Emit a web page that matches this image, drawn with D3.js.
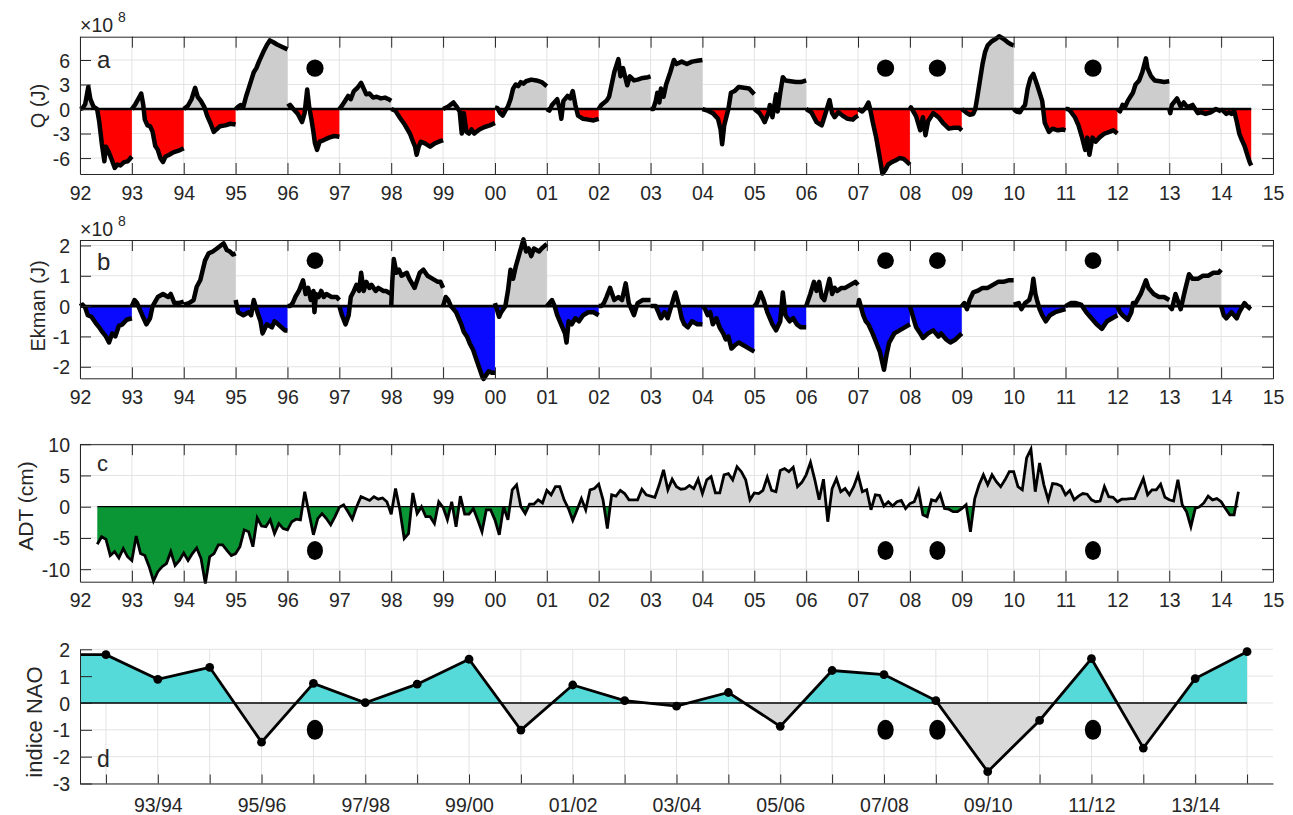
<!DOCTYPE html>
<html><head><meta charset="utf-8">
<script src="https://cdn.jsdelivr.net/npm/d3@7"></script>
<style>
body{margin:0;background:#fff}
text{font-family:"Liberation Sans",Arial,Helvetica,sans-serif;fill:#262626}
</style>
</head><body>
<svg id="chart" width="1293" height="815"></svg>
<script>
// ---------------- DATA ----------------
// start year (two-digit, 92 = 1992 ... 114 = 2014) of each yearly cumulative segment
const segYears = [92,93,94,95,96,97,98,99,100,101,102,103,104,105,106,107,108,109,110,111,112,113,114];

// Q (J) x1e8 : [fraction of year, value] per year
const qByYear = [
 [[0,0],[0.05,0.1],[0.1,0.6],[0.16,2.7],[0.2,1.2],[0.26,0.3],[0.33,0.0],[0.37,-1.5],[0.42,-4.2],[0.47,-6.4],[0.5,-4.6],[0.55,-5.2],[0.6,-6.0],[0.67,-7.2],[0.72,-6.8],[0.78,-6.9],[0.85,-6.5],[0.92,-6.4],[1,-5.8]],
 [[0,0],[0.06,0.5],[0.12,1.2],[0.18,1.9],[0.22,0.5],[0.25,-1.3],[0.3,-2.0],[0.35,-2.1],[0.4,-2.8],[0.45,-4.5],[0.5,-5.0],[0.55,-6.0],[0.6,-6.5],[0.65,-5.8],[0.72,-5.6],[0.8,-5.3],[0.9,-5.1],[1,-4.8]],
 [[0,0],[0.08,0.4],[0.15,1.2],[0.22,2.6],[0.27,1.5],[0.33,1.0],[0.4,0.2],[0.45,-0.8],[0.52,-1.8],[0.58,-2.8],[0.63,-2.5],[0.7,-2.1],[0.8,-2.0],[0.9,-1.8],[1,-1.9]],
 [[0,0],[0.05,0.3],[0.1,0.5],[0.15,0.3],[0.2,1.5],[0.25,2.5],[0.3,3.5],[0.35,4.5],[0.4,5.0],[0.45,5.8],[0.5,6.5],[0.55,7.2],[0.6,7.8],[0.66,8.4],[0.72,8.2],[0.8,7.9],[0.9,7.6],[1,7.3]],
 [[0,0.3],[0.05,0.5],[0.1,0.1],[0.2,-0.6],[0.28,-1.6],[0.33,-0.5],[0.38,2.4],[0.42,0.2],[0.46,-1.2],[0.5,-2.8],[0.53,-4.2],[0.57,-5.0],[0.62,-4.0],[0.7,-3.8],[0.8,-3.5],[0.9,-3.3],[1,-3.4]],
 [[0,0],[0.05,0.4],[0.1,0.9],[0.17,1.6],[0.22,1.2],[0.28,2.2],[0.35,2.6],[0.42,3.2],[0.47,2.5],[0.52,1.8],[0.58,1.9],[0.65,1.4],[0.72,1.5],[0.8,1.3],[0.88,1.4],[0.95,1.2],[1,1.0]],
 [[0,0],[0.08,-0.2],[0.17,-1.1],[0.26,-1.9],[0.36,-3.0],[0.42,-4.0],[0.46,-4.6],[0.49,-5.6],[0.53,-4.6],[0.57,-4.0],[0.65,-4.2],[0.75,-4.6],[0.84,-4.2],[0.92,-4.0],[1,-3.8]],
 [[0,0],[0.1,0.3],[0.2,0.8],[0.27,0.2],[0.32,-0.3],[0.36,-3.0],[0.4,-0.5],[0.45,-2.8],[0.5,-3.0],[0.55,-2.5],[0.6,-3.0],[0.7,-2.5],[0.8,-2.2],[0.9,-2.0],[1,-1.7]],
 [[0,0.2],[0.05,0.1],[0.1,-0.5],[0.15,-0.8],[0.2,-0.2],[0.25,0.3],[0.3,1.2],[0.35,2.5],[0.4,3.0],[0.45,2.8],[0.5,3.3],[0.55,3.1],[0.6,3.4],[0.7,3.6],[0.8,3.5],[0.9,3.3],[1,2.8]],
 [[0,0],[0.05,-0.2],[0.1,0.5],[0.2,1.2],[0.25,0],[0.28,-1.2],[0.32,1.0],[0.4,1.6],[0.45,1.3],[0.5,2.2],[0.55,0.5],[0.6,-0.8],[0.7,-1.2],[0.8,-1.3],[0.9,-1.4],[1,-1.2]],
 [[0,0],[0.05,0.5],[0.15,1.0],[0.2,1.5],[0.25,3.0],[0.3,4.5],[0.38,6.1],[0.42,4.0],[0.47,5.0],[0.55,2.9],[0.6,4.0],[0.68,3.5],[0.75,3.6],[0.85,3.8],[0.95,3.9],[1,4.0]],
 [[0,0],[0.05,0],[0.1,1.0],[0.13,2.0],[0.17,0.8],[0.2,2.5],[0.25,1.5],[0.3,3.0],[0.38,4.5],[0.45,6.0],[0.5,5.5],[0.6,5.8],[0.7,5.5],[0.8,5.8],[0.9,5.9],[1,6.0]],
 [[0,0],[0.1,-0.2],[0.2,-0.5],[0.3,-1.2],[0.35,-2.5],[0.38,-4.3],[0.42,-2.0],[0.5,0],[0.55,2.0],[0.62,2.2],[0.7,2.7],[0.8,2.6],[0.9,2.5],[1,1.8]],
 [[0,0],[0.1,-0.5],[0.15,-1.0],[0.2,-1.6],[0.27,-0.5],[0.3,0.5],[0.35,-1.0],[0.4,1.0],[0.42,1.8],[0.45,-0.3],[0.5,2.0],[0.55,3.9],[0.6,3.5],[0.7,3.4],[0.8,3.3],[0.9,3.3],[1,3.5]],
 [[0,0],[0.1,-0.4],[0.2,-1.6],[0.3,-2.0],[0.35,-1.0],[0.45,1.1],[0.5,-0.5],[0.55,-1.0],[0.62,-0.4],[0.7,-0.8],[0.8,-1.2],[0.9,-1.3],[0.95,-1.0],[1,-0.8]],
 [[0,0],[0.08,-0.3],[0.15,0.2],[0.2,0.8],[0.23,0.1],[0.28,-1.5],[0.35,-3.5],[0.42,-6.0],[0.47,-7.9],[0.52,-7.5],[0.58,-6.8],[0.65,-6.5],[0.72,-6.3],[0.8,-6.0],[0.88,-6.1],[0.95,-6.5],[1,-6.8]],
 [[0,0],[0.02,0.2],[0.12,-0.9],[0.2,-2.6],[0.25,-1.0],[0.3,-3.2],[0.35,-1.5],[0.45,-0.5],[0.55,-1.0],[0.65,-1.8],[0.75,-2.4],[0.85,-2.3],[0.95,-2.3],[1,-2.6]],
 [[0,0],[0.08,-0.4],[0.15,-0.7],[0.22,-0.6],[0.26,0.0],[0.3,1.5],[0.35,3.5],[0.4,5.5],[0.45,7.0],[0.5,7.8],[0.58,8.3],[0.66,8.6],[0.72,8.9],[0.8,8.6],[0.88,8.2],[0.95,7.9],[1,7.8]],
 [[0,0],[0.05,-0.3],[0.12,-0.4],[0.18,0.2],[0.22,0.5],[0.27,2.5],[0.32,3.7],[0.38,4.3],[0.45,3.0],[0.5,2.0],[0.55,1.0],[0.6,-1.7],[0.68,-2.8],[0.75,-2.4],[0.85,-2.6],[0.95,-2.5],[1,-2.6]],
 [[0,0],[0.05,0],[0.1,-0.3],[0.18,-1.0],[0.25,-2.0],[0.32,-3.5],[0.38,-5.0],[0.42,-3.5],[0.46,-5.6],[0.52,-3.5],[0.58,-4.0],[0.65,-3.5],[0.75,-3.0],[0.85,-2.8],[0.92,-2.6],[1,-3.0]],
 [[0,0],[0.05,-0.3],[0.1,0.5],[0.15,0.3],[0.2,1.0],[0.25,1.5],[0.3,2.0],[0.35,3.0],[0.42,3.5],[0.48,4.5],[0.55,6.2],[0.58,5.0],[0.65,4.0],[0.72,3.5],[0.82,3.4],[0.9,3.3],[1,3.4]],
 [[0,0],[0.02,-0.5],[0.05,0.5],[0.15,1.3],[0.22,0.3],[0.28,0.8],[0.35,0.2],[0.45,0.5],[0.55,-0.5],[0.62,-0.4],[0.7,-0.6],[0.8,-0.4],[0.9,0],[1,-0.3]],
 [[0,0],[0.05,-0.3],[0.1,-0.6],[0.15,-0.4],[0.2,-0.6],[0.25,-0.2],[0.3,-1.5],[0.35,-3.0],[0.4,-3.8],[0.45,-4.5],[0.5,-5.5],[0.55,-6.5],[0.58,-6.9]]
];

// Ekman (J) x1e8 : [fraction of year, value] per year
const ekByYear = [
 [[0,0],[0.05,0.05],[0.1,-0.05],[0.15,-0.3],[0.22,-0.35],[0.3,-0.55],[0.37,-0.7],[0.43,-0.85],[0.5,-1.0],[0.56,-1.2],[0.62,-0.9],[0.68,-1.0],[0.75,-0.65],[0.82,-0.6],[0.9,-0.45],[1,-0.4]],
 [[0,0],[0.05,0.2],[0.1,0.1],[0.2,-0.3],[0.28,-0.6],[0.35,-0.4],[0.4,0],[0.5,0.3],[0.6,0.4],[0.7,0.3],[0.75,0.4],[0.82,0.1],[0.9,0.1],[1,0.15]],
 [[0,0.05],[0.1,0.1],[0.19,0.2],[0.25,0.64],[0.32,0.86],[0.41,1.5],[0.48,1.74],[0.56,1.8],[0.64,1.9],[0.77,2.07],[0.83,1.85],[0.89,1.8],[0.95,1.7],[1,1.74]],
 [[0,0.2],[0.05,-0.2],[0.15,-0.3],[0.25,-0.2],[0.3,-0.3],[0.35,0.2],[0.42,-0.2],[0.48,-0.5],[0.52,-0.9],[0.6,-0.6],[0.7,-0.7],[0.75,-0.5],[0.82,-0.6],[0.95,-0.8],[1,-0.8]],
 [[0,0],[0.05,0],[0.1,0.1],[0.15,0.3],[0.22,0.5],[0.3,0.85],[0.35,0.4],[0.4,0.6],[0.45,0.2],[0.5,0.5],[0.52,-0.2],[0.55,0.4],[0.6,0.3],[0.65,0.5],[0.7,0.3],[0.75,0.4],[0.85,0.3],[0.95,0.3],[1,0.2]],
 [[0,0],[0.05,-0.3],[0.12,-0.6],[0.18,-0.3],[0.22,0.3],[0.28,0.5],[0.33,0.7],[0.38,0.5],[0.42,1.1],[0.47,0.5],[0.52,0.8],[0.58,0.6],[0.62,0.7],[0.7,0.5],[0.75,0.6],[0.85,0.5],[0.9,0.5],[1,0.4]],
 [[0,0],[0.02,0.8],[0.05,1.55],[0.1,1.1],[0.15,1.2],[0.2,1.0],[0.3,1.1],[0.35,0.9],[0.45,0.6],[0.55,1.1],[0.62,1.2],[0.7,1.0],[0.8,0.9],[0.9,0.8],[0.95,0.8],[1,0.6]],
 [[0,0],[0.05,0.3],[0.1,0.2],[0.15,0],[0.2,-0.1],[0.25,-0.2],[0.3,-0.4],[0.35,-0.6],[0.4,-0.85],[0.46,-1.0],[0.52,-1.25],[0.58,-1.45],[0.65,-1.8],[0.7,-2.05],[0.75,-2.3],[0.78,-2.4],[0.82,-2.3],[0.88,-2.15],[0.94,-2.2],[1,-2.2]],
 [[0,0.1],[0.08,-0.35],[0.12,-0.2],[0.2,0],[0.25,0.5],[0.3,1.2],[0.35,0.9],[0.4,1.3],[0.45,1.6],[0.55,2.2],[0.6,1.8],[0.65,1.9],[0.7,1.65],[0.75,1.9],[0.85,1.8],[0.9,1.9],[1,2.05]],
 [[0,0],[0.1,0.2],[0.15,0],[0.2,-0.3],[0.3,-0.7],[0.35,-0.9],[0.38,-1.2],[0.42,-0.5],[0.48,-0.6],[0.55,-0.4],[0.62,-0.5],[0.7,-0.3],[0.8,-0.2],[0.9,-0.2],[1,-0.3]],
 [[0,0],[0.05,0],[0.1,0.1],[0.15,0.3],[0.22,0.6],[0.3,0.2],[0.38,0.3],[0.45,0.2],[0.52,0.75],[0.58,0.1],[0.68,-0.3],[0.75,0.1],[0.85,0.2],[0.95,0.2],[1,0.2]],
 [[0,0],[0.05,0],[0.1,0],[0.15,-0.2],[0.2,-0.4],[0.27,-0.2],[0.33,-0.4],[0.4,0],[0.45,0.3],[0.48,0.45],[0.55,0],[0.6,-0.4],[0.65,-0.6],[0.72,-0.7],[0.8,-0.5],[0.9,-0.6],[1,-0.6]],
 [[0,0],[0.05,-0.1],[0.1,-0.3],[0.15,-0.2],[0.2,-0.6],[0.27,-0.4],[0.33,-0.7],[0.4,-0.9],[0.45,-1.1],[0.5,-1.0],[0.56,-1.4],[0.62,-1.3],[0.7,-1.2],[0.8,-1.3],[0.9,-1.4],[1,-1.5]],
 [[0,0],[0.05,0.1],[0.12,0.45],[0.18,0.2],[0.25,-0.2],[0.35,-0.6],[0.42,-0.8],[0.5,-0.5],[0.55,0.45],[0.6,-0.3],[0.68,-0.5],[0.75,-0.4],[0.82,-0.6],[0.9,-0.7],[1,-0.7]],
 [[0,0],[0.08,0.4],[0.15,0.8],[0.2,0.5],[0.25,0.8],[0.3,0.3],[0.35,0.2],[0.45,0.9],[0.5,0.4],[0.55,0.6],[0.6,0.5],[0.68,0.6],[0.75,0.6],[0.85,0.7],[0.95,0.8],[1,0.7]],
 [[0,0],[0.02,0.2],[0.1,-0.3],[0.15,-0.5],[0.2,-0.6],[0.28,-0.9],[0.35,-1.2],[0.42,-1.5],[0.5,-2.1],[0.55,-1.6],[0.6,-1.2],[0.7,-0.9],[0.8,-0.8],[0.9,-0.7],[1,-0.6]],
 [[0,0],[0.05,-0.3],[0.12,-0.7],[0.2,-0.9],[0.25,-1.05],[0.35,-0.9],[0.45,-0.8],[0.55,-1.0],[0.6,-0.9],[0.7,-1.1],[0.78,-1.2],[0.88,-1.1],[1,-0.9]],
 [[0,0],[0.05,0.1],[0.1,-0.1],[0.15,0.2],[0.22,0.45],[0.3,0.5],[0.4,0.6],[0.5,0.6],[0.6,0.7],[0.7,0.8],[0.8,0.8],[0.9,0.85],[1,0.85]],
 [[0,0.05],[0.1,0.1],[0.15,-0.1],[0.22,0.1],[0.3,0.2],[0.35,0.5],[0.38,0.9],[0.42,0.4],[0.45,0.2],[0.5,-0.1],[0.55,-0.3],[0.62,-0.5],[0.7,-0.3],[0.8,-0.2],[0.9,-0.15],[1,-0.1]],
 [[0,0],[0.1,0.1],[0.2,0.1],[0.3,0.05],[0.4,-0.2],[0.5,-0.4],[0.6,-0.6],[0.7,-0.75],[0.8,-0.5],[0.9,-0.4],[1,-0.3]],
 [[0,0],[0.05,-0.2],[0.1,-0.3],[0.2,-0.45],[0.27,-0.2],[0.3,0.1],[0.35,0.1],[0.45,0.4],[0.55,0.85],[0.6,0.6],[0.7,0.4],[0.8,0.3],[0.9,0.3],[1,0.2]],
 [[0,0],[0.05,-0.1],[0.12,0.4],[0.18,0.1],[0.22,-0.1],[0.3,0.5],[0.38,1.05],[0.45,0.9],[0.55,0.9],[0.65,1.0],[0.75,1.0],[0.85,1.1],[0.95,1.1],[1,1.2]],
 [[0,0],[0.05,-0.3],[0.1,-0.4],[0.15,-0.3],[0.2,-0.2],[0.3,-0.4],[0.35,-0.2],[0.45,0.1],[0.5,0],[0.57,-0.1]]
];

// ADT (cm): monthly values from May 1992
const adtStart = 92 + 4/12;
const adt = [
 -6.0,-4.8,-5.2,-7.8,-7.2,-8.2,-6.7,-8.0,-8.6,-4.7,
 -7.5,-7.8,-9.6,-11.9,-10.4,-9.6,-9.1,-7.2,-9.4,-8.6,
 -7.4,-8.6,-7.5,-6.6,-8.3,-12.3,-8.0,-7.5,-6.1,-6.1,
 -7.0,-7.8,-7.5,-6.4,-3.7,-4.0,-6.4,-1.8,-3.1,-3.2,
 -2.1,-4.3,-2.7,-3.5,-3.7,-2.4,-2.0,-2.1,2.4,-1.1,
 -4.5,-1.9,-1.1,-1.9,-2.9,-1.6,-0.1,0.3,-0.8,-2.0,
 0,1.6,1.3,1.0,1.6,1.2,1.4,0.8,-1.2,2.9,
 -0.5,-5.1,-4.3,2.2,-1.1,0,-1.6,-1.6,-2.7,0.8,
 -0.1,-2.1,0.8,-3.2,1.7,-1.2,-1.2,-0.3,-2.1,-4.0,
 -0.5,-0.5,-2.1,-4.5,0,-2.1,2.7,3.5,0,-1.1,
 0.4,0.4,1.1,0.6,2.6,1.9,3.2,3.2,1.1,-0.3,
 -2.2,-0.5,1.3,-0.5,2.7,2.9,3.6,1.1,-3.5,1.9,
 1.7,2.6,2.1,1.1,1.1,1.1,2.8,1.9,1.7,
 1.5,3.5,5.9,2.7,4.4,3.2,2.8,2.9,3.4,2.9,
 4.4,2.1,4.3,4.8,2.2,2.2,5.1,5.3,4.3,6.4,
 5.6,4.3,1.1,2.2,2.1,2.6,4.7,2.6,2.4,5.8,
 6.1,5.6,6.3,3.2,3.9,5.1,7.1,4.3,1.1,4.4,
 -2.4,2.9,4.5,2.4,2.9,1.9,3.2,5.1,2.4,2.7,
 -0.5,1.9,1.8,0.1,0.8,0.1,0.8,1.0,-0.3,0.5,
 0.8,2.6,-1.3,-1.6,1.1,0.9,2.0,-0.3,-0.4,-0.8,
 -0.8,-0.3,0.3,-4.0,1.3,3.5,5.1,3.5,5.1,4.0,
 3.2,4.3,5.6,5.6,3.2,2.7,7.8,9.2,2.4,7.0,
 3.5,1.1,3.7,3.6,3.3,1.9,2.6,1.1,1.7,2.1,
 2.0,1.1,0.8,0.9,3.2,1.6,1.5,0.8,1.2,1.2,
 1.3,1.3,2.9,4.5,1.9,2.7,2.7,3.6,1.5,1.1,
 0.9,4.3,0.3,-0.8,-3.2,-0.3,0,0.6,1.7,1.1,
 1.3,0.8,-0.3,-1.3,-1.3,2.4
];

// NAO winter index, winters 92/93 ... 14/15
const naoWinters = ['92/93','93/94','94/95','95/96','96/97','97/98','98/99','99/00','00/01','01/02','02/03','03/04','04/05','05/06','06/07','07/08','08/09','09/10','10/11','11/12','12/13','13/14','14/15'];
const nao = [1.8,0.88,1.33,-1.46,0.73,0.01,0.70,1.63,-1.01,0.67,0.09,-0.12,0.39,-0.87,1.21,1.06,0.09,-2.56,-0.65,1.65,-1.68,0.91,1.91];

// highlighted years (dots)
const eventYears = [96.53,107.53,108.53,111.53];

// ticks
const yearTicks = [92,93,94,95,96,97,98,99,100,101,102,103,104,105,106,107,108,109,110,111,112,113,114,115];
const yearTickLabels = ['92','93','94','95','96','97','98','99','00','01','02','03','04','05','06','07','08','09','10','11','12','13','14','15'];
const qTicks = [-6,-3,0,3,6];
const ekTicks = [-2,-1,0,1,2];
const adtTicks = [-10,-5,0,5,10];
const naoTicks = [-3,-2,-1,0,1,2];

// ---------------- DRAWING ----------------
const W = 1293;
const svg = d3.select('#chart');
const defs = svg.append('defs');
const FONT = '"Liberation Sans",Arial,Helvetica,sans-serif';
const AX = '#262626', GRID = '#e3e3e3';

const x = d3.scaleLinear().domain([92, 115]).range([80, 1273]);
const xEnd = x.range()[1], xStart = x.range()[0];

const ya = d3.scaleLinear().domain([-7.95, 8.85]).range([174, 36.7]);
const yb = d3.scaleLinear().domain([-2.38, 2.18]).range([378.3, 240]);
const yc = d3.scaleLinear().domain([-12, 10]).range([581.7, 444.2]);
const yd = d3.scaleLinear().domain([-3, 2]).range([783.5, 649.3]);

const gridL = svg.append('g');
const dataL = svg.append('g');
const axisL = svg.append('g');

const fmt = v => String(v);

function styleAxis(g, fs) {
  g.attr('font-family', FONT).attr('font-size', fs);
  g.selectAll('.domain').attr('stroke', AX).attr('stroke-width', 1);
  g.selectAll('.tick line').attr('stroke', AX).attr('stroke-width', 1);
  g.selectAll('.tick text').attr('fill', AX);
}

function gridFor(y, xTicks, yTicks) {
  const [bot, top] = y.range();
  gridL.append('g').selectAll('line').data(xTicks).join('line')
    .attr('x1', d => x(d)).attr('x2', d => x(d)).attr('y1', top).attr('y2', bot)
    .attr('stroke', GRID).attr('stroke-width', 1);
  gridL.append('g').selectAll('line').data(yTicks).join('line')
    .attr('x1', xStart).attr('x2', xEnd).attr('y1', d => y(d)).attr('y2', d => y(d))
    .attr('stroke', GRID).attr('stroke-width', 1);
}

function boxAxes(y, yTicks) {
  const [bot, top] = y.range();
  const tl = 11;
  const gb = axisL.append('g').attr('transform', `translate(0,${bot})`)
    .call(d3.axisBottom(x).tickValues(yearTicks).tickFormat((d, i) => yearTickLabels[i]).tickSize(-tl).tickSizeOuter(0).tickPadding(11));
  styleAxis(gb, 19.5);
  gb.selectAll('.tick text').attr('y', 25.5).attr('dy', 0);
  const gt = axisL.append('g').attr('transform', `translate(0,${top})`)
    .call(d3.axisTop(x).tickValues(yearTicks).tickFormat('').tickSize(-tl).tickSizeOuter(0));
  styleAxis(gt, 19);
  const gl = axisL.append('g').attr('transform', `translate(${xStart},0)`)
    .call(d3.axisLeft(y).tickValues(yTicks).tickFormat(fmt).tickSize(-tl).tickSizeOuter(0).tickPadding(10));
  styleAxis(gl, 19.5);
  gl.selectAll('.tick text').attr('dy', '0.36em');
  const gr = axisL.append('g').attr('transform', `translate(${xEnd},0)`)
    .call(d3.axisRight(y).tickValues(yTicks).tickFormat('').tickSize(-tl).tickSizeOuter(0));
  styleAxis(gr, 19);
}

function signClips(id, y) {
  const [bot, top] = y.range();
  defs.append('clipPath').attr('id', id + 'P').append('rect')
    .attr('x', 0).attr('width', W).attr('y', top - 5).attr('height', y(0) - top + 5);
  defs.append('clipPath').attr('id', id + 'N').append('rect')
    .attr('x', 0).attr('width', W).attr('y', y(0)).attr('height', bot - y(0) + 5);
}

function cumulativePanel(id, byYear, y, negColor, posColor) {
  signClips(id, y);
  const area = d3.area().x(p => x(p[0])).y0(y(0)).y1(p => y(p[1]));
  const line = d3.line().x(p => x(p[0])).y(p => y(p[1]));
  const segs = byYear.map((pts, i) => pts.map(p => [segYears[i] + p[0], p[1]]));
  segs.forEach(s => {
    dataL.append('path').attr('d', area(s)).attr('fill', posColor).attr('clip-path', `url(#${id}P)`);
    dataL.append('path').attr('d', area(s)).attr('fill', negColor).attr('clip-path', `url(#${id}N)`);
  });
  const last = segs[segs.length - 1];
  dataL.append('line').attr('x1', x(segYears[0])).attr('x2', x(last[last.length - 1][0]))
    .attr('y1', y(0)).attr('y2', y(0)).attr('stroke', '#000').attr('stroke-width', 2.6);
  segs.forEach(s => {
    dataL.append('path').attr('d', line(s)).attr('fill', 'none').attr('stroke', '#000')
      .attr('stroke-width', 4.5).attr('stroke-linejoin', 'round').attr('stroke-linecap', 'butt');
  });
}

function dots(y, v, rx, ry) {
  dataL.append('g').selectAll('ellipse').data(eventYears).join('ellipse')
    .attr('cx', d => x(d)).attr('cy', y(v)).attr('rx', rx).attr('ry', ry).attr('fill', '#000');
}

function exponent(y) {
  const top = y.range()[1];
  const t = axisL.append('text').attr('x', 80).attr('y', top - 4.5).attr('font-size', 19.5);
  t.append('tspan').text('×10');
  t.append('tspan').attr('dx', 5).attr('dy', -10).attr('font-size', 14).text('8');
}

function yLabel(text, xpos, ycenter, fs) {
  axisL.append('text').attr('transform', `translate(${xpos},${ycenter}) rotate(-90)`)
    .attr('text-anchor', 'middle').attr('font-size', fs).text(text);
}
function panelLetter(text, xpos, ypos, fs) {
  axisL.append('text').attr('x', xpos).attr('y', ypos).attr('font-size', fs).text(text);
}

// ---- panel a ----
gridFor(ya, yearTicks, qTicks);
cumulativePanel('qa', qByYear, ya, '#ff0000', '#cdcdcd');
dots(ya, 5.0, 8.6, 8.6);
boxAxes(ya, qTicks);
exponent(ya);
yLabel('Q (J)', 45, 106, 20);
panelLetter('a', 97, 68, 24);

// ---- panel b ----
gridFor(yb, yearTicks, ekTicks);
cumulativePanel('eb', ekByYear, yb, '#0a0aff', '#cdcdcd');
dots(yb, 1.5, 8.4, 8.4);
boxAxes(yb, ekTicks);
exponent(yb);
yLabel('Ekman (J)', 45, 306, 20);
panelLetter('b', 97, 270, 24);

// ---- panel c ----
gridFor(yc, yearTicks, adtTicks);
signClips('ac', yc);
{
  const pts = adt.map((v, i) => [adtStart + i / 12, v]);
  const area = d3.area().x(p => x(p[0])).y0(yc(0)).y1(p => yc(p[1]));
  dataL.append('path').attr('d', area(pts)).attr('fill', '#d6d6d6').attr('clip-path', 'url(#acP)');
  dataL.append('path').attr('d', area(pts)).attr('fill', '#0a9634').attr('clip-path', 'url(#acN)');
  dataL.append('line').attr('x1', x(pts[0][0])).attr('x2', x(pts[pts.length - 1][0]))
    .attr('y1', yc(0)).attr('y2', yc(0)).attr('stroke', '#000').attr('stroke-width', 1.3);
  dataL.append('path').attr('d', d3.line().x(p => x(p[0])).y(p => yc(p[1]))(pts))
    .attr('fill', 'none').attr('stroke', '#000').attr('stroke-width', 2.8).attr('stroke-linejoin', 'miter');
}
dots(yc, -7, 8, 9.5);
boxAxes(yc, adtTicks);
yLabel('ADT (cm)', 33, 506, 21);
panelLetter('c', 97, 471, 22);

// ---- panel d ----
{
  const naoX = naoWinters.map((w, i) => segYears[i] + 0.5);
  gridFor(yd, naoX, naoTicks);
  signClips('nd', yd);
  const pts = [[segYears[0], nao[0]]].concat(nao.map((v, i) => [naoX[i], v]));
  const area = d3.area().x(p => x(p[0])).y0(yd(0)).y1(p => yd(p[1]));
  dataL.append('path').attr('d', area(pts)).attr('fill', '#55d9d9').attr('clip-path', 'url(#ndP)');
  dataL.append('path').attr('d', area(pts)).attr('fill', '#d9d9d9').attr('clip-path', 'url(#ndN)');
  dataL.append('line').attr('x1', x(pts[0][0])).attr('x2', x(naoX[naoX.length - 1]))
    .attr('y1', yd(0)).attr('y2', yd(0)).attr('stroke', '#000').attr('stroke-width', 1.5);
  dataL.append('path').attr('d', d3.line().x(p => x(p[0])).y(p => yd(p[1]))(pts))
    .attr('fill', 'none').attr('stroke', '#000').attr('stroke-width', 2.8);
  dataL.append('g').selectAll('circle').data(nao).join('circle')
    .attr('cx', (d, i) => x(naoX[i])).attr('cy', d => yd(d)).attr('r', 4.4).attr('fill', '#000');
  dots(yd, -1, 8.2, 10);
  const [bot, top] = yd.range();
  const gb = axisL.append('g').attr('transform', `translate(0,${bot})`)
    .call(d3.axisBottom(x).tickValues(naoX).tickFormat((d, i) => i % 2 === 1 ? naoWinters[i] : '').tickSize(-9).tickSizeOuter(0));
  styleAxis(gb, 19.5);
  gb.selectAll('.tick text').attr('y', 28).attr('dy', 0);
  const gl = axisL.append('g').attr('transform', `translate(${xStart},0)`)
    .call(d3.axisLeft(yd).tickValues(naoTicks).tickFormat(fmt).tickSize(-12).tickSizeOuter(0).tickPadding(10));
  styleAxis(gl, 19.5);
  gl.selectAll('.tick text').attr('dy', '0.36em');
  yLabel('indice NAO', 42, 722, 22);
  panelLetter('d', 97, 767, 23);
}
</script>
</body></html>
